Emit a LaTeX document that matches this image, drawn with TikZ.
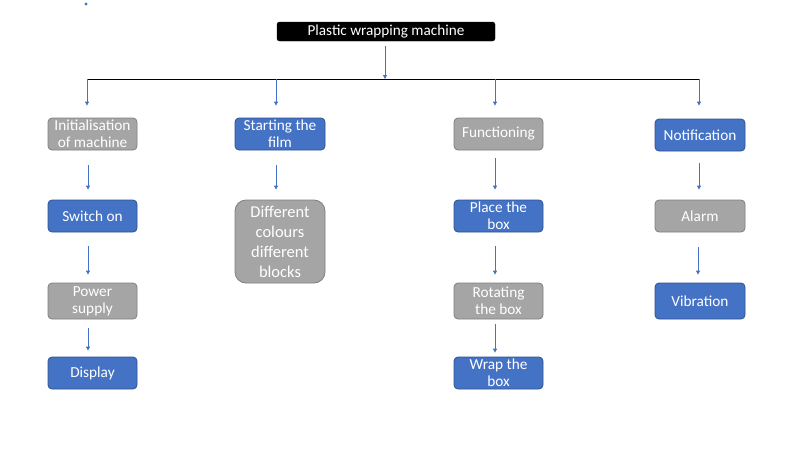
\documentclass[tikz,border=0pt]{standalone}
\usepackage{fontspec}
\setmainfont{Carlito}
\usetikzlibrary{arrows.meta}
\definecolor{boxblue}{HTML}{4472C4}
\definecolor{blueedge}{HTML}{2F528F}
\definecolor{boxgray}{HTML}{A5A5A5}
\definecolor{grayedge}{HTML}{7F7F7F}
\begin{document}
\begin{tikzpicture}[x=1pt,y=-1pt,
  base/.style={rectangle, rounded corners=4pt, text=white, align=center, inner sep=1pt,
    font=\fontsize{15.3}{17}\selectfont, line width=0.8pt},
  bluebox/.style={base, fill=boxblue, draw=blueedge},
  graybox/.style={base, fill=boxgray, draw=grayedge},
  sz/.style 2 args={minimum width=#1pt, minimum height=#2pt},
  arr/.style={draw=boxblue, line width=0.9pt, -{Triangle[length=4pt,width=4pt]}},
]
\useasboundingbox (0,0) rectangle (800,450);
\fill[boxblue] (86,4) circle (1.6pt);

\node[rectangle, rounded corners=2.5pt, fill=black, draw=black, text=white, inner sep=0pt,
  font=\fontsize{15.2}{17}\selectfont, sz={218}{19}] (title) at (386,31.5) {Plastic wrapping machine};

\node[graybox, sz={89}{32}] (init) at (92.5,134) {Initialisation\\of machine};
\node[bluebox, sz={90}{32}] (start) at (280,134) {Starting the\\film};
\node[graybox, sz={89}{32}] (func) at (498.5,134) {Functioning};
\node[bluebox, sz={90}{32}] (notif) at (700,135) {Notification};

\node[bluebox, sz={89}{32}] (switch) at (92.5,216) {Switch on};
\node[graybox, sz={89}{36}] (power) at (92.5,301) {Power\\supply};
\node[bluebox, sz={89}{32}] (display) at (92.5,373) {Display};

\node[graybox, rounded corners=11pt, sz={90}{83}, font=\fontsize{16.5}{20}\selectfont] (diff) at (280,241.5) {Different\\colours\\different\\blocks};

\node[bluebox, sz={89}{32}] (place) at (498.5,216) {Place the\\box};
\node[graybox, sz={89}{36}] (rot) at (498.5,301) {Rotating\\the box};
\node[bluebox, sz={89}{32}] (wrap) at (498.5,373) {Wrap the\\box};

\node[graybox, sz={90}{32}] (alarm) at (700,216) {Alarm};
\node[bluebox, sz={90}{36}] (vib) at (700,301) {Vibration};

% bus
\coordinate (b1) at (87,79);
\coordinate (b2) at (276,79);
\coordinate (b3) at (495,79);
\coordinate (b4) at (699,79);
\coordinate (bt) at (385,79);
\draw[black, line width=0.8pt] (b1) -- (b4);
\draw[arr, shorten <=5pt] (title.south -| bt) -- (bt);
\draw[arr, shorten >=12pt] (b1) -- (b1 |- init.north);
\draw[arr, shorten >=12pt] (b2) -- (b2 |- start.north);
\draw[arr, shorten >=12pt] (b3) -- (b3 |- func.north);
\draw[arr, shorten >=13pt] (b4) -- (b4 |- notif.north);

% column arrows
\draw[arr, shorten <=15pt, shorten >=10pt] ([xshift=-4.5pt]init.south) -- ([xshift=-4.5pt]switch.north);
\draw[arr, shorten <=14pt, shorten >=8pt] ([xshift=-4.5pt]switch.south) -- ([xshift=-4.5pt]power.north);
\draw[arr, shorten <=9pt, shorten >=6pt] ([xshift=-4.5pt]power.south) -- ([xshift=-4.5pt]display.north);

\draw[arr, shorten <=15pt, shorten >=10pt] ([xshift=-4pt]start.south) -- ([xshift=-4pt]diff.north);

\draw[arr, shorten <=8pt, shorten >=10pt] ([xshift=-3.5pt]func.south) -- ([xshift=-3.5pt]place.north);
\draw[arr, shorten <=14pt, shorten >=8pt] ([xshift=-3.5pt]place.south) -- ([xshift=-3.5pt]rot.north);
\draw[arr, shorten <=5pt, shorten >=4pt] ([xshift=-3.5pt]rot.south) -- ([xshift=-3.5pt]wrap.north);

\draw[arr, shorten <=12pt, shorten >=10pt] ([xshift=-1pt]notif.south) -- ([xshift=-1pt]alarm.north);
\draw[arr, shorten <=15pt, shorten >=8pt] ([xshift=-2pt]alarm.south) -- ([xshift=-2pt]vib.north);
\end{tikzpicture}
\end{document}
